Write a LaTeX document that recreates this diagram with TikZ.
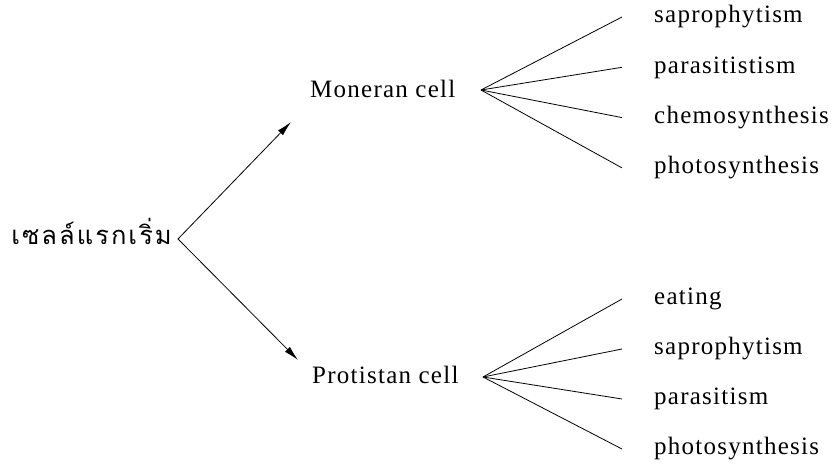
\documentclass[tikz,border=0pt]{standalone}
\usepackage{fontspec}
\setmainfont{Liberation Serif}[LetterSpace=5]
\newfontfamily\thaifont[Script=Thai, LetterSpace=8]{Loma}
\usetikzlibrary{positioning, arrows.meta}

\begin{document}
\begin{tikzpicture}[x=1pt, y=1pt,
			cell/.style={anchor=base west, inner sep=0pt, font=\fontsize{25}{30}\selectfont},
			mode/.style={anchor=base west, inner sep=0pt, text height=12pt, text depth=0pt, font=\fontsize{25}{30}\selectfont},
			branch/.style={-{Latex[length=15pt, width=7pt]}, line width=0.8pt},
			fanline/.style={line width=0.8pt}
			]
			\useasboundingbox (0,0) rectangle (831,469);
			
			% Root
			\node[anchor=base east, inner sep=0pt, font=\thaifont\fontsize{25.5}{30}\selectfont] (root) at (172,224) {เซลล์แรกเริ่ม};
			\coordinate (apex) at (178,230);
			
			% Two kinds of cells
			\node[cell] (mon) at (310,371) {Moneran cell};
			\node[cell] (pro) at (312,85) {Protistan cell};
			\coordinate (monarr) at (291,347);
			\coordinate (proarr) at (298,109);
			\draw[branch] (apex) -- (monarr);
			\draw[branch] (apex) -- (proarr);
			
			% Fan of ways of life
			\coordinate (monfan) at (481,379);
			\coordinate (profan) at (483,92);
			\foreach \lbl [count=\i] in {saprophytism, parasitistism, chemosynthesis, photosynthesis} {
				\node[mode] (m\i) at (654,{446-50.3*(\i-1)}) {\lbl};
				\draw[fanline] (monfan) -- ([xshift=-32pt]m\i.west);
			}
			\foreach \lbl [count=\i] in {eating, saprophytism, parasitism, photosynthesis} {
				\node[mode] (p\i) at (654,{164-50*(\i-1)}) {\lbl};
				\draw[fanline] (profan) -- ([xshift=-32pt]p\i.west);
			}
		\end{tikzpicture}
\end{document}
